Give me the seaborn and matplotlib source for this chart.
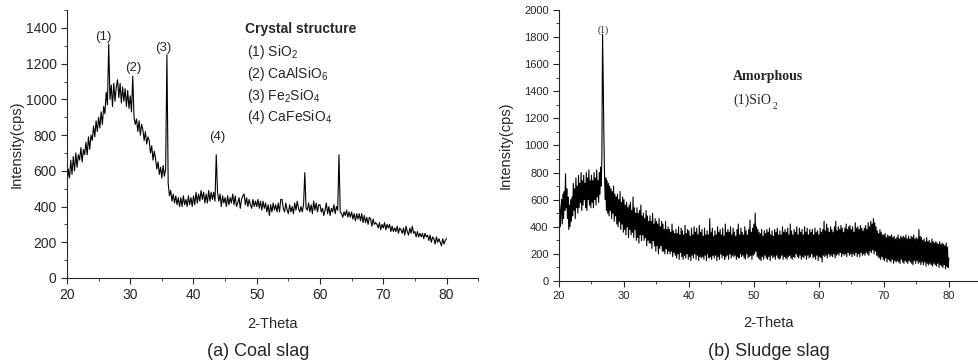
import numpy as np
import pandas as pd
import seaborn as sns
import matplotlib.pyplot as plt
from matplotlib.ticker import MultipleLocator

sns.set_style("ticks")
plt.rcParams['font.family'] = ['Liberation Sans', 'DejaVu Sans']
plt.rcParams['mathtext.fontset'] = 'custom'
plt.rcParams['mathtext.rm'] = 'Liberation Sans'
plt.rcParams['mathtext.it'] = 'Liberation Sans'

# coal slag scan: 20..80 deg, 0.2 deg steps, one row per degree
coal_intensity = [
    520, 610, 560, 660, 580,
    680, 600, 700, 620, 690,
    660, 730, 650, 720, 690,
    760, 690, 790, 720, 800,
    770, 850, 790, 880, 820,
    900, 840, 930, 860, 960,
    920, 1040, 970, 1310, 1000,
    1080, 960, 1090, 990, 1070,
    1110, 1010, 1090, 980, 1070,
    990, 1060, 960, 1050, 950,
    1020, 930, 1130, 900, 860,
    890, 820, 880, 800, 860,
    830, 770, 820, 750, 790,
    770, 700, 740, 660, 710,
    670, 610, 650, 580, 620,
    560, 630, 570, 610, 1250,
    530, 460, 490, 430, 470,
    420, 460, 410, 450, 400,
    450, 400, 460, 410, 440,
    400, 460, 410, 450, 400,
    460, 410, 480, 420, 470,
    430, 490, 440, 480, 420,
    470, 420, 490, 430, 480,
    440, 480, 430, 690, 480,
    430, 470, 400, 460, 420,
    450, 400, 460, 410, 450,
    420, 470, 410, 460, 400,
    420, 450, 390, 440, 460,
    470, 410, 450, 400, 440,
    410, 390, 440, 400, 430,
    400, 440, 390, 430, 380,
    430, 390, 420, 370, 410,
    350, 410, 370, 420, 380,
    410, 370, 420, 370, 440,
    440, 390, 370, 420, 380,
    360, 410, 370, 400, 360,
    420, 380, 430, 390, 370,
    400, 370, 410, 590, 390,
    380, 420, 370, 410, 360,
    430, 380, 420, 370, 410,
    410, 370, 390, 350, 380,
    420, 360, 400, 350, 390,
    370, 410, 360, 400, 380,
    690, 370, 360, 340, 370,
    350, 380, 340, 370, 340,
    370, 330, 360, 320, 360,
    330, 360, 320, 360, 310,
    350, 310, 340, 300, 340,
    330, 290, 330, 300, 310,
    300, 280, 310, 270, 300,
    280, 310, 270, 300, 280,
    300, 260, 290, 260, 280,
    260, 290, 250, 280, 270,
    250, 280, 240, 290, 260,
    240, 280, 250, 290, 250,
    260, 230, 260, 230, 250,
    230, 250, 220, 250, 230,
    240, 210, 240, 200, 230,
    220, 190, 230, 200, 220,
    200, 180, 220, 190, 210,
    220,
]

# sludge slag scan: 20..80 deg, 0.1 deg steps, one row per degree
sludge_intensity = [
    380, 560, 400, 520, 600, 420, 640, 460, 660, 520,
    790, 540, 680, 460, 620, 380, 560, 400, 600, 440,
    620, 480, 720, 520, 680, 460, 760, 540, 700, 500,
    780, 540, 720, 580, 800, 520, 740, 560, 780, 600,
    720, 540, 800, 520, 760, 600, 820, 560, 740, 540,
    780, 580, 740, 540, 800, 600, 760, 560, 820, 620,
    740, 580, 800, 640, 840, 700, 920, 1820, 1500, 1100,
    800, 600, 760, 520, 740, 500, 720, 480, 700, 520,
    680, 460, 660, 500, 700, 440, 640, 480, 620, 420,
    640, 400, 600, 440, 660, 380, 580, 420, 620, 360,
    600, 380, 560, 340, 580, 400, 540, 320, 560, 380,
    580, 340, 520, 360, 620, 320, 540, 380, 500, 300,
    540, 320, 500, 280, 520, 340, 560, 300, 480, 340,
    500, 300, 460, 320, 520, 260, 480, 300, 440, 280,
    480, 280, 440, 240, 500, 300, 420, 260, 460, 220,
    440, 260, 420, 200, 460, 240, 400, 260, 440, 220,
    420, 220, 380, 200, 440, 240, 380, 200, 400, 220,
    380, 200, 360, 220, 420, 180, 370, 210, 350, 190,
    380, 170, 350, 200, 400, 160, 340, 210, 390, 180,
    370, 160, 340, 190, 410, 170, 350, 200, 380, 160,
    370, 180, 330, 150, 390, 190, 340, 170, 400, 200,
    360, 160, 390, 190, 340, 150, 410, 180, 360, 170,
    380, 180, 330, 160, 390, 190, 340, 150, 370, 200,
    340, 170, 460, 180, 360, 160, 390, 190, 330, 170,
    370, 190, 340, 150, 400, 180, 360, 160, 380, 200,
    340, 170, 390, 190, 330, 160, 420, 180, 360, 190,
    380, 160, 360, 200, 400, 170, 340, 190, 390, 180,
    360, 190, 330, 160, 380, 180, 420, 170, 340, 200,
    390, 180, 360, 190, 340, 170, 400, 160, 370, 200,
    340, 170, 380, 180, 450, 190, 360, 160, 390, 190,
    420, 200, 500, 220, 400, 180, 380, 170, 360, 160,
    350, 150, 380, 180, 330, 160, 370, 190, 350, 170,
    380, 160, 360, 180, 390, 150, 340, 190, 370, 170,
    330, 180, 380, 160, 360, 190, 390, 170, 340, 160,
    370, 170, 340, 190, 400, 160, 360, 180, 380, 170,
    360, 160, 390, 180, 340, 190, 420, 170, 370, 160,
    340, 180, 380, 170, 360, 200, 400, 180, 340, 170,
    390, 190, 360, 160, 380, 180, 340, 170, 400, 190,
    360, 160, 390, 190, 340, 170, 380, 180, 360, 200,
    380, 170, 340, 180, 390, 160, 360, 190, 370, 150,
    340, 180, 390, 170, 360, 140, 380, 190, 440, 180,
    370, 190, 420, 170, 390, 200, 360, 180, 400, 190,
    380, 180, 360, 200, 400, 170, 440, 190, 370, 200,
    400, 190, 380, 210, 410, 180, 390, 200, 360, 190,
    390, 200, 420, 180, 380, 210, 400, 190, 410, 200,
    380, 180, 400, 200, 360, 190, 430, 210, 390, 180,
    400, 200, 380, 180, 410, 210, 390, 190, 370, 200,
    390, 190, 410, 210, 380, 200, 430, 190, 400, 220,
    440, 210, 420, 230, 460, 200, 430, 220, 400, 190,
    370, 180, 350, 170, 380, 160, 360, 180, 340, 160,
    340, 150, 350, 170, 320, 140, 340, 160, 330, 150,
    330, 140, 340, 160, 320, 130, 330, 150, 310, 140,
    320, 150, 340, 140, 310, 130, 330, 160, 320, 140,
    330, 130, 320, 150, 340, 140, 310, 130, 330, 150,
    310, 140, 330, 130, 320, 120, 340, 150, 310, 130,
    320, 150, 310, 130, 380, 140, 330, 120, 320, 140,
    300, 120, 310, 140, 290, 110, 320, 130, 290, 120,
    300, 130, 280, 120, 310, 110, 290, 130, 280, 120,
    290, 110, 280, 130, 270, 100, 290, 120, 270, 110,
    280, 100, 270, 120, 260, 90, 280, 110, 250, 100,
    170,
]

coal_labels = ['(1)', '(2)', '(3)', '(4)']
coal_label_pos = [(25.8, 1350), (30.4, 1175), (35.2, 1290), (43.7, 790)]
coal_phases = ['(1) SiO$_2$', '(2) CaAlSiO$_6$', '(3) Fe$_2$SiO$_4$', '(4) CaFeSiO$_4$']

coal = pd.DataFrame({'theta': np.linspace(20, 80, len(coal_intensity)),
                     'intensity': coal_intensity})
sludge = pd.DataFrame({'theta': np.linspace(20, 80, len(sludge_intensity)),
                       'intensity': sludge_intensity})

fig = plt.figure(figsize=(9.79, 3.64), dpi=100)
ax1 = fig.add_axes([0.0684, 0.2363, 0.42, 0.736])
ax2 = fig.add_axes([0.571, 0.228, 0.428, 0.745])

sns.lineplot(data=coal, x='theta', y='intensity', ax=ax1, color='black', linewidth=0.8)
sns.lineplot(data=sludge, x='theta', y='intensity', ax=ax2, color='black', linewidth=0.8)

######################################################################## panel (a)
ax1.set_xlim(20, 85)
ax1.set_ylim(0, 1500)
ax1.xaxis.set_major_locator(MultipleLocator(10))
ax1.xaxis.set_minor_locator(MultipleLocator(5))
ax1.yaxis.set_minor_locator(MultipleLocator(100))
ax1.set_yticks([0, 200, 400, 600, 800, 1000, 1200, 1400])
ax1.tick_params(labelsize=10, length=4, width=0.8)
ax1.tick_params(which='minor', length=2, width=0.6)
ax1.set_xlabel('2-Theta', fontsize=10.5)
ax1.set_ylabel('Intensity(cps)', fontsize=10.5)
ax1.xaxis.set_label_coords(0.5, -0.145)
ax1.yaxis.set_label_coords(-0.105, 0.5)

for lab, (x, y) in zip(coal_labels, coal_label_pos):
    ax1.text(x, y, lab, ha='center', va='center', fontsize=9.5)

ax1.text(48.1, 1395, 'Crystal structure', fontsize=10, fontweight='bold', va='center')
for i, phase in enumerate(coal_phases):
    ax1.text(48.4, 1265 - i * 122, phase, fontsize=10, va='center')

######################################################################## panel (b)
ax2.set_xlim(20, 84.5)
ax2.set_ylim(0, 2000)
ax2.xaxis.set_major_locator(MultipleLocator(10))
ax2.xaxis.set_minor_locator(MultipleLocator(5))
ax2.yaxis.set_major_locator(MultipleLocator(200))
ax2.yaxis.set_minor_locator(MultipleLocator(100))
ax2.tick_params(labelsize=8, length=4, width=0.8)
ax2.tick_params(which='minor', length=2, width=0.6)
ax2.set_xlabel('2-Theta', fontsize=10.5)
ax2.set_ylabel('Intensity(cps)', fontsize=10.5)
ax2.xaxis.set_label_coords(0.5, -0.13)
ax2.yaxis.set_label_coords(-0.11, 0.5)

ax2.text(26.8, 1850, '(1)', ha='center', va='center', fontsize=7, family='Liberation Serif')
ax2.text(46.8, 1510, 'Amorphous', fontsize=10, fontweight='bold', va='center',
         family='Liberation Serif')
ax2.text(46.8, 1335, '(1)SiO', fontsize=10, va='center', family='Liberation Serif')
ax2.text(52.9, 1290, '2', fontsize=7, va='center', family='Liberation Serif')

sns.despine(fig=fig)

fig.text(0.264, 0.035, '(a) Coal slag', ha='center', va='center', fontsize=13)
fig.text(0.785, 0.035, '(b) Sludge slag', ha='center', va='center', fontsize=13)

plt.savefig('out.png', dpi=100)
